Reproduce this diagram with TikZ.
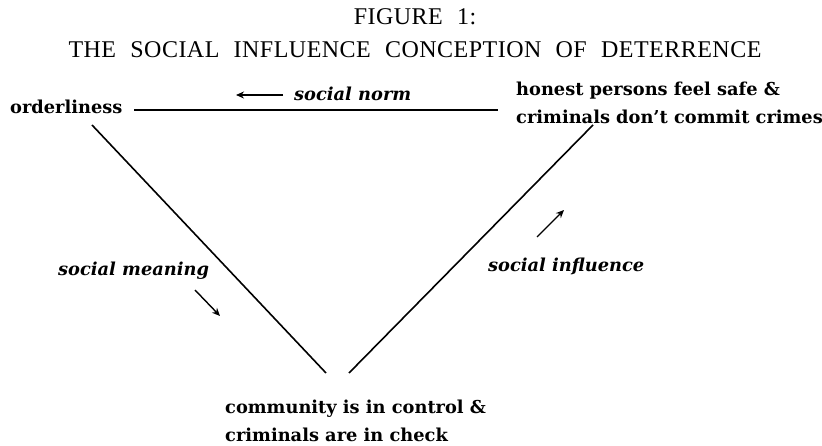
\documentclass[tikz,border=0pt]{standalone}
\usepackage{fontspec}
\setmainfont{Liberation Serif}
\newfontfamily\headfont[WordSpace=2.2,LetterSpace=2]{Liberation Serif}
\newfontfamily\slabfont{DejaVu Serif}
\usetikzlibrary{arrows.meta}
\begin{document}
\begin{tikzpicture}[x=1pt,y=-1pt,
  title/.style={font=\headfont\fontsize{24}{28}\selectfont, inner sep=0pt, anchor=base},
  concept/.style={font=\slabfont\fontsize{17.8}{27.5}\selectfont\bfseries, inner sep=0pt, align=left},
  relation/.style={font=\slabfont\fontsize{17.8}{20}\selectfont\bfseries\itshape, inner sep=0pt, anchor=base west},
  link/.style={line width=1.6pt},
  cue/.style={line width=1.4pt, -{Stealth[length=8pt,width=7pt]}}]
\useasboundingbox (0,0) rectangle (822,446);

\node[title] (t1) at (415,25) {FIGURE 1:};
\node[title] (t2) at (415,58) {THE SOCIAL INFLUENCE CONCEPTION OF DETERRENCE};

% the three states
\node[concept, anchor=base west] (ord) at (10,114) {orderliness};
\node[concept, anchor=north west] (hon) at (516,82) {honest persons feel safe \&\\criminals don’t commit crimes};
\node[concept, anchor=north west] (com) at (225,400) {community is in control \&\\criminals are in check};

% end points of the triangle sides
\coordinate (hA) at (134,110);
\coordinate (hB) at (498,110);
\coordinate (lA) at (92,125);
\coordinate (lB) at (326,373);
\coordinate (rA) at (349,373);
\coordinate (rB) at (593,125);

\draw[link] (hA) -- (hB);
\draw[link] (lA) -- (lB);
\draw[link] (rA) -- (rB);

% relation labels with their direction arrows
\node[relation] (norm) at (294,101) {social norm};
\coordinate (nA) at (283,95);
\coordinate (nB) at (236,95);
\draw[cue] (nA) -- (nB);

\node[relation] (mean) at (58,276) {social meaning};
\coordinate (mA) at (195,290);
\coordinate (mB) at (220,316);
\draw[cue] (mA) -- (mB);

\node[relation] (infl) at (488,272) {social influence};
\coordinate (iA) at (537,237);
\coordinate (iB) at (564,210);
\draw[cue] (iA) -- (iB);
\end{tikzpicture}
\end{document}
